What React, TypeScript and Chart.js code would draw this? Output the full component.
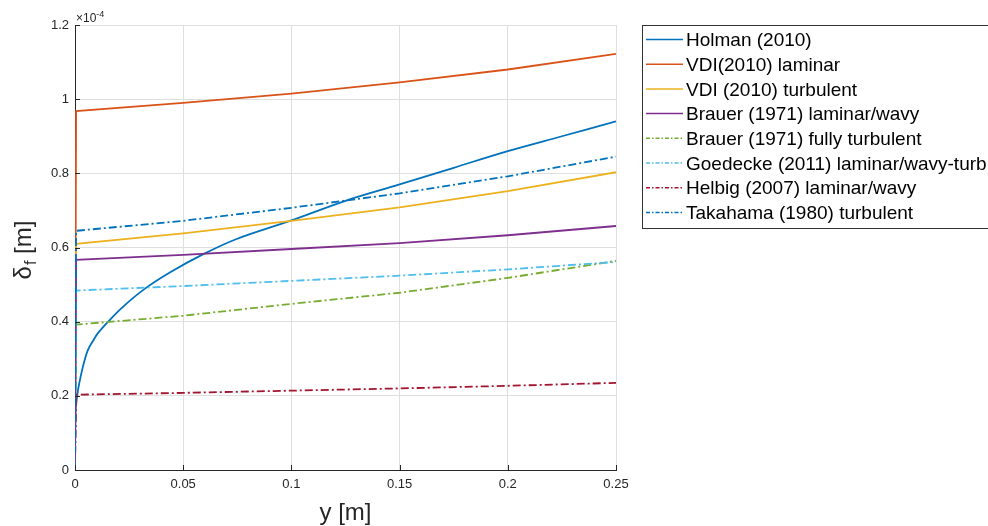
import React, { useEffect, useRef } from "react";
import { Chart, registerables } from "chart.js";

Chart.register(...registerables);

// ---- data (x in m, film thickness in 1e-4 m) ----
const xHolman = [0, 0.0002, 0.0006, 0.0014, 0.0029, 0.0045, 0.006, 0.0085, 0.0106, 0.015, 0.0214, 0.0314, 0.044, 0.0593, 0.0747, 0.1, 0.125, 0.15, 0.175, 0.2, 0.225, 0.25];
const holman = [0, 0.15, 0.18, 0.216, 0.26, 0.297, 0.324, 0.35, 0.369, 0.398, 0.436, 0.485, 0.533, 0.582, 0.623, 0.673, 0.726, 0.77, 0.815, 0.86, 0.9, 0.94];

const xCommon = [0, 0.0005, 0.05, 0.1, 0.15, 0.2, 0.25];
const vdiLaminar = [0, 0.968, 0.99, 1.015, 1.045, 1.08, 1.122];
const vdiTurbulent = [0, 0.61, 0.638, 0.672, 0.708, 0.752, 0.803];
const brauerLaminar = [0, 0.567, 0.58, 0.596, 0.612, 0.633, 0.658];
const brauerTurbulent = [0, 0.392, 0.416, 0.448, 0.478, 0.518, 0.564];
const goedecke = [0, 0.484, 0.496, 0.51, 0.524, 0.541, 0.561];
const helbig = [0, 0.203, 0.208, 0.214, 0.22, 0.227, 0.235];
const takahama = [0, 0.645, 0.672, 0.707, 0.746, 0.792, 0.845];

const seriesNames = [
  "Holman (2010)",
  "VDI(2010) laminar",
  "VDI (2010) turbulent",
  "Brauer (1971) laminar/wavy",
  "Brauer (1971) fully turbulent",
  "Goedecke (2011) laminar/wavy-turb",
  "Helbig (2007) laminar/wavy",
  "Takahama (1980) turbulent",
];
const seriesColors = ["#0072BD", "#D95319", "#EDB120", "#7E2F8E", "#77AC30", "#4DBEEE", "#A2142F", "#0072BD"];
const seriesDashed = [false, false, false, false, true, true, true, true];

const xTicks = [0, 0.05, 0.1, 0.15, 0.2, 0.25];
const xTickLabels = ["0", "0.05", "0.1", "0.15", "0.2", "0.25"];
const yTicks = [0, 0.2, 0.4, 0.6, 0.8, 1, 1.2];
const yTickLabels = ["0", "0.2", "0.4", "0.6", "0.8", "1", "1.2"];

const FONT = "'Liberation Sans', Arial, Helvetica, sans-serif";
const AXIS_COLOR = "#262626";
const DASH = [8, 3, 2, 3];

const toPts = (xs: number[], ys: number[]) => xs.map((x, i) => ({ x, y: ys[i] }));

const decorPlugin = {
  id: "decor",
  afterDraw(chart: any) {
    const ctx = chart.ctx as CanvasRenderingContext2D;
    const { left, right, top, bottom } = chart.chartArea;
    const xs = chart.scales.x;
    const ys = chart.scales.y;
    ctx.save();
    // inward ticks
    ctx.strokeStyle = AXIS_COLOR;
    ctx.lineWidth = 1;
    ctx.setLineDash([]);
    ctx.beginPath();
    xTicks.forEach((v) => {
      const px = Math.round(xs.getPixelForValue(v)) + 0.5;
      ctx.moveTo(px, bottom);
      ctx.lineTo(px, bottom - 5);
    });
    yTicks.forEach((v) => {
      const py = Math.round(ys.getPixelForValue(v)) + 0.5;
      ctx.moveTo(left, py);
      ctx.lineTo(left + 5, py);
    });
    ctx.stroke();

    // exponent label
    ctx.fillStyle = AXIS_COLOR;
    ctx.textBaseline = "alphabetic";
    ctx.textAlign = "left";
    ctx.font = `12px ${FONT}`;
    const base = "\u00d710";
    ctx.fillText(base, left + 1, top - 3);
    const bw = ctx.measureText(base).width;
    ctx.font = `9px ${FONT}`;
    ctx.fillText("-4", left + 1 + bw, top - 8);

    // x title
    ctx.font = `24px ${FONT}`;
    ctx.textAlign = "center";
    ctx.fillText("y [m]", (left + right) / 2, 520);

    // y title with subscript
    ctx.translate(31, 250);
    ctx.rotate(-Math.PI / 2);
    ctx.textAlign = "left";
    ctx.font = `24px ${FONT}`;
    const wD = ctx.measureText("\u03b4").width;
    ctx.font = `16px ${FONT}`;
    const wF = ctx.measureText("f").width;
    ctx.font = `24px ${FONT}`;
    const wM = ctx.measureText(" [m]").width;
    const total = wD + wF + 1 + wM;
    let cx = -total / 2;
    ctx.fillText("\u03b4", cx, 0);
    cx += wD + 1;
    ctx.font = `16px ${FONT}`;
    ctx.fillText("f", cx, 5);
    cx += wF;
    ctx.font = `24px ${FONT}`;
    ctx.fillText(" [m]", cx, 0);
    ctx.restore();

    // legend
    ctx.save();
    const lx = 642.5, ly = 25.5, lw = 360, lh = 203;
    ctx.fillStyle = "#ffffff";
    ctx.fillRect(lx, ly, lw, lh);
    ctx.strokeStyle = "#333333";
    ctx.lineWidth = 1;
    ctx.strokeRect(lx, ly, lw, lh);
    ctx.font = `19px ${FONT}`;
    ctx.textBaseline = "middle";
    ctx.textAlign = "left";
    seriesNames.forEach((name, i) => {
      const y = 39.5 + i * 24.7;
      ctx.strokeStyle = seriesColors[i];
      ctx.lineWidth = 1.5;
      ctx.setLineDash(seriesDashed[i] ? [4, 2, 1.5, 2] : []);
      ctx.beginPath();
      ctx.moveTo(646, y);
      ctx.lineTo(683, y);
      ctx.stroke();
      ctx.fillStyle = "#000000";
      ctx.fillText(name, 686, y + 1.5);
    });
    ctx.restore();
  },
};

export default function App() {
  const ref = useRef<HTMLCanvasElement | null>(null);
  useEffect(() => {
    if (!ref.current) return;
    const allData = [
      toPts(xHolman, holman),
      toPts(xCommon, vdiLaminar),
      toPts(xCommon, vdiTurbulent),
      toPts(xCommon, brauerLaminar),
      toPts(xCommon, brauerTurbulent),
      toPts(xCommon, goedecke),
      toPts(xCommon, helbig),
      toPts(xCommon, takahama),
    ];
    const n = allData.length;
    const chart = new Chart(ref.current, {
      type: "line",
      data: {
        datasets: allData.map((d, i) => ({
          label: seriesNames[i],
          data: d,
          borderColor: seriesColors[i],
          backgroundColor: seriesColors[i],
          borderWidth: 1.8,
          borderDash: seriesDashed[i] ? DASH : [],
          pointRadius: 0,
          fill: false,
          tension: i === 0 ? 0.35 : 0,
          order: n - i,
        })),
      },
      options: {
        responsive: false,
        animation: false,
        events: [],
        layout: { padding: { top: 25, right: 988 - 616, left: 0, bottom: 0 } },
        plugins: { legend: { display: false }, tooltip: { enabled: false }, title: { display: false } },
        scales: {
          x: {
            type: "linear",
            min: 0,
            max: 0.25,
            afterBuildTicks: (s: any) => {
              s.ticks = xTicks.map((v) => ({ value: v }));
            },
            afterFit: (s: any) => {
              s.height = 526 - 470;
            },
            ticks: {
              padding: 7,
              color: AXIS_COLOR,
              font: { family: FONT, size: 13 },
              maxRotation: 0,
              callback: (_v: any, i: number) => xTickLabels[i],
            },
            grid: { color: "#dfdfdf", drawTicks: false, lineWidth: 1 },
            border: { display: true, color: AXIS_COLOR, width: 1 },
          },
          y: {
            type: "linear",
            min: 0,
            max: 1.2,
            afterBuildTicks: (s: any) => {
              s.ticks = yTicks.map((v) => ({ value: v }));
            },
            afterFit: (s: any) => {
              s.width = 75;
            },
            ticks: {
              padding: 6,
              color: AXIS_COLOR,
              font: { family: FONT, size: 13 },
              callback: (_v: any, i: number) => yTickLabels[i],
            },
            grid: { color: "#dfdfdf", drawTicks: false, lineWidth: 1 },
            border: { display: true, color: AXIS_COLOR, width: 1 },
          },
        },
      },
      plugins: [decorPlugin],
    });
    return () => chart.destroy();
  }, []);
  return (
    <div style={{ position: "absolute", left: 0, top: 0, width: 988, height: 526, background: "#fff" }}>
      <canvas ref={ref} width={988} height={526} style={{ display: "block", width: 988, height: 526 }} />
    </div>
  );
}
